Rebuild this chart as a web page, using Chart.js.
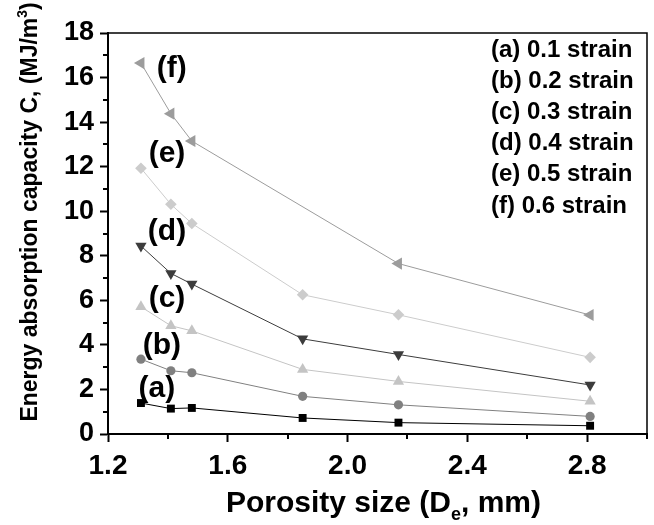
<!DOCTYPE html>
<html>
<head>
<meta charset="utf-8">
<title>Energy absorption capacity vs porosity size</title>
<script src="https://cdn.jsdelivr.net/npm/chart.js@4.4.0/dist/chart.umd.min.js"></script>
<style>
  html, body { margin: 0; padding: 0; background: #fff; }
  canvas { display: block; }
</style>
</head>
<body>
<canvas id="chart" width="654" height="525"></canvas>
<script>
// Porosity size (De, mm) for each measured foam
const porosity = [1.31, 1.41, 1.48, 1.85, 2.17, 2.81];

// Energy absorption capacity C (MJ/m^3) at each strain level
const strain01 = [1.39, 1.14, 1.17, 0.72, 0.51, 0.37];
const strain02 = [3.36, 2.84, 2.75, 1.69, 1.31, 0.79];
const strain03 = [5.71, 4.86, 4.63, 2.90, 2.36, 1.47];
const strain04 = [8.44, 7.21, 6.73, 4.27, 3.57, 2.20];
const strain05 = [11.93, 10.31, 9.45, 6.25, 5.35, 3.44];
const strain06 = [16.65, 14.38, 13.15, null, 7.65, 5.34];

const seriesTags = ['(a)', '(b)', '(c)', '(d)', '(e)', '(f)'];
const strainLabels = ['(a) 0.1 strain', '(b) 0.2 strain', '(c) 0.3 strain',
                      '(d) 0.4 strain', '(e) 0.5 strain', '(f) 0.6 strain'];

// Axis ranges and labelled tick values
const xMin = 1.2, xMax = 3.0, xStep = 0.2;
const yMin = 0, yMax = 18, yStep = 1;
const xTickLabels = [1.2, 1.6, 2.0, 2.4, 2.8];
const yTickLabels = [0, 2, 4, 6, 8, 10, 12, 14, 16, 18];

// Where each series tag sits, in data units
const tagX = [1.363, 1.38, 1.397, 1.397, 1.397, 1.413];
const tagY = [2.02, 3.95, 6.06, 9.07, 12.57, 16.4];

const FONT = '"Liberation Sans", Arial, Helvetica, sans-serif';

const styles = [
  { color: '#000000', point: 'rect',     radius: 5.6, rotation: 0 },
  { color: '#808080', point: 'circle',   radius: 4.6, rotation: 0 },
  { color: '#c4c4c4', point: 'triangle', radius: 6.5, rotation: 0 },
  { color: '#3c3c3c', point: 'triangle', radius: 6.5, rotation: 180 },
  { color: '#cccccc', point: 'rectRot',  radius: 5.8, rotation: 0 },
  { color: '#9c9c9c', point: 'triangle', radius: 7,   rotation: 270 }
];

const allSeries = [strain01, strain02, strain03, strain04, strain05, strain06];

const datasets = allSeries.map((vals, i) => ({
  label: strainLabels[i],
  data: porosity.map((x, k) => ({ x: x, y: vals[k] })),
  borderColor: styles[i].color,
  backgroundColor: styles[i].color,
  pointBackgroundColor: styles[i].color,
  pointBorderColor: styles[i].color,
  pointBorderWidth: 0,
  pointStyle: styles[i].point,
  pointRadius: styles[i].radius,
  pointRotation: styles[i].rotation,
  borderWidth: 1,
  spanGaps: true,
  tension: 0
}));

function isLabelledX(v) {
  return xTickLabels.some(t => Math.abs(t - v) < 1e-6);
}
function isLabelledY(v) {
  return yTickLabels.some(t => Math.abs(t - v) < 1e-6);
}

// Draws a run of text pieces (with sub/superscripts) centred on cx
function drawRich(ctx, pieces, baseSize, cx, baseline) {
  let total = 0;
  const widths = pieces.map(p => {
    ctx.font = 'bold ' + (baseSize * p.scale) + 'px ' + FONT;
    const w = ctx.measureText(p.text).width;
    total += w;
    return w;
  });
  let x = cx - total / 2;
  pieces.forEach((p, i) => {
    ctx.font = 'bold ' + (baseSize * p.scale) + 'px ' + FONT;
    ctx.fillText(p.text, x, baseline + p.shift);
    x += widths[i];
  });
}

const decorations = {
  id: 'decorations',
  afterDraw(chart) {
    const ctx = chart.ctx;
    const area = chart.chartArea;
    const xs = chart.scales.x;
    const ys = chart.scales.y;
    ctx.save();

    // Frame: top and right edges
    ctx.strokeStyle = '#000';
    ctx.lineWidth = 1.5;
    ctx.beginPath();
    ctx.moveTo(area.left, area.top);
    ctx.lineTo(area.right, area.top);
    ctx.lineTo(area.right, area.bottom);
    ctx.stroke();

    // Short minor ticks
    ctx.lineWidth = 2;
    ctx.beginPath();
    for (let v = xMin; v <= xMax + 1e-6; v += xStep) {
      if (isLabelledX(v)) continue;
      const px = Math.round(xs.getPixelForValue(v));
      ctx.moveTo(px, area.bottom);
      ctx.lineTo(px, area.bottom + 5);
    }
    for (let v = yMin; v <= yMax + 1e-6; v += yStep) {
      if (isLabelledY(v)) continue;
      const py = Math.round(ys.getPixelForValue(v));
      ctx.moveTo(area.left, py);
      ctx.lineTo(area.left - 5, py);
    }
    ctx.stroke();

    ctx.fillStyle = '#000';

    // Series tags next to the first points
    ctx.font = 'bold 30px ' + FONT;
    ctx.textAlign = 'center';
    ctx.textBaseline = 'middle';
    seriesTags.forEach((t, i) => {
      ctx.fillText(t, xs.getPixelForValue(tagX[i]), ys.getPixelForValue(tagY[i]));
    });

    // Strain key in the upper right
    ctx.font = 'bold 24px ' + FONT;
    ctx.textAlign = 'left';
    ctx.textBaseline = 'middle';
    strainLabels.forEach((t, i) => {
      ctx.fillText(t, 491, 50 + i * 31.2);
    });

    // X axis title
    ctx.textAlign = 'left';
    ctx.textBaseline = 'alphabetic';
    drawRich(ctx, [
      { text: 'Porosity size (D', scale: 1, shift: 0 },
      { text: 'e', scale: 0.6, shift: 8 },
      { text: ', mm)', scale: 1, shift: 0 }
    ], 30, (area.left + area.right) / 2 + 6, 512);

    // Y axis title
    ctx.translate(37, 212);
    ctx.rotate(-Math.PI / 2);
    drawRich(ctx, [
      { text: 'Energy absorption capacity C, (MJ/m', scale: 1, shift: 0 },
      { text: '3', scale: 0.6, shift: -10 },
      { text: ')', scale: 1, shift: 0 }
    ], 23, 0, 0);

    ctx.restore();
  }
};

new Chart(document.getElementById('chart'), {
  type: 'line',
  data: { datasets: datasets },
  plugins: [decorations],
  options: {
    responsive: false,
    animation: false,
    devicePixelRatio: 1,
    layout: { padding: { top: 33, right: 3, left: 0, bottom: 0 } },
    plugins: {
      legend: { display: false },
      tooltip: { enabled: false }
    },
    scales: {
      x: {
        type: 'linear',
        min: xMin,
        max: xMax,
        afterFit(scale) { scale.height = 91; },
        border: { display: true, color: '#000', width: 2 },
        grid: {
          drawOnChartArea: false,
          drawTicks: true,
          tickLength: 8,
          tickWidth: 2,
          tickColor: c => isLabelledX(c.tick.value) ? '#000' : 'rgba(0,0,0,0)'
        },
        ticks: {
          stepSize: xStep,
          autoSkip: false,
          maxRotation: 0,
          padding: 7,
          color: '#000',
          font: { family: FONT, size: 28, weight: 'bold' },
          callback: v => isLabelledX(v) ? Number(v).toFixed(1) : ''
        }
      },
      y: {
        type: 'linear',
        min: yMin,
        max: yMax,
        afterFit(scale) { scale.width = 108; },
        border: { display: true, color: '#000', width: 2 },
        grid: {
          drawOnChartArea: false,
          drawTicks: true,
          tickLength: 8,
          tickWidth: 2,
          tickColor: c => isLabelledY(c.tick.value) ? '#000' : 'rgba(0,0,0,0)'
        },
        ticks: {
          stepSize: yStep,
          autoSkip: false,
          padding: 6,
          color: '#000',
          font: { family: FONT, size: 27, weight: 'bold' },
          callback: v => isLabelledY(v) ? String(v) : ''
        }
      }
    }
  }
});
</script>
</body>
</html>
